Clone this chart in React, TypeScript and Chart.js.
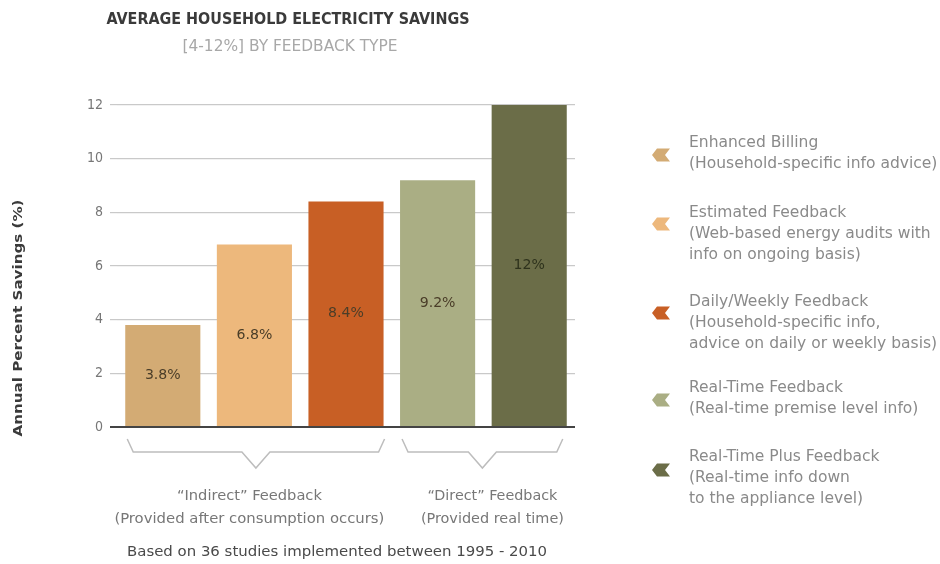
import React, { useEffect, useRef } from "react";
import { Chart, registerables } from "chart.js";

Chart.register(...registerables);

const categories = ["Enhanced Billing", "Estimated Feedback", "Daily/Weekly Feedback", "Real-Time Feedback", "Real-Time Plus Feedback"];
const savings = [3.8, 6.8, 8.4, 9.2, 12];
const valueLabels = ["3.8%", "6.8%", "8.4%", "9.2%", "12%"];
const barColors = ["#D3AB74", "#EDB87C", "#C85F25", "#AAAE84", "#6B6D48"];
const legendLines = [
  ["Enhanced Billing", "(Household-specific info advice)"],
  ["Estimated Feedback", "(Web-based energy audits with", "info on ongoing basis)"],
  ["Daily/Weekly Feedback", "(Household-specific info,", "advice on daily or weekly basis)"],
  ["Real-Time Feedback", "(Real-time premise level info)"],
  ["Real-Time Plus Feedback", "(Real-time info down", "to the appliance level)"],
];
const yTicks = [0, 2, 4, 6, 8, 10, 12];
const groupLabels = [
  ["\u201CIndirect\u201D Feedback", "(Provided after consumption occurs)"],
  ["\u201CDirect\u201D Feedback", "(Provided real time)"],
];
const title = "AVERAGE HOUSEHOLD ELECTRICITY SAVINGS";
const subtitle = "[4-12%] BY FEEDBACK TYPE";
const yTitle = "Annual Percent Savings (%)";
const footer = "Based on 36 studies implemented between 1995 - 2010";

const FONT = '"DejaVu Sans Condensed", "Liberation Sans Narrow", "Roboto", sans-serif';

function drawText(ctx: CanvasRenderingContext2D, text: string, x: number, y: number, font: string, color: string, align: CanvasTextAlign, width?: number, sx?: number) {
  ctx.save();
  ctx.font = font;
  ctx.fillStyle = color;
  ctx.textBaseline = "middle";
  ctx.textAlign = align;
  let s = 1;
  if (width) {
    const w = ctx.measureText(text).width;
    s = width / w;
  } else if (sx) {
    s = sx;
  }
  ctx.translate(x, y);
  ctx.scale(s, 1);
  ctx.fillText(text, 0, 0);
  ctx.restore();
}

const decorPlugin = {
  id: "decor",
  afterDatasetsDraw(chart: any) {
    const ctx: CanvasRenderingContext2D = chart.ctx;
    const meta = chart.getDatasetMeta(0);
    // value labels
    meta.data.forEach((bar: any, i: number) => {
      const cy = (bar.y + bar.base) / 2;
      drawText(ctx, valueLabels[i], bar.x, cy, `500 14px ${FONT}`, i === 4 ? "#2e321c" : "#4a3d28", "center", undefined, 1.12);
    });
    // braces
    const b = meta.data;
    const base = b[0].base;
    ctx.save();
    ctx.strokeStyle = "#bdbdbd";
    ctx.lineWidth = 1.5;
    const brace = (x1: number, x2: number) => {
      const mid = (x1 + x2) / 2;
      const top = base + 13;
      const h = base + 26;
      ctx.beginPath();
      ctx.moveTo(x1, top);
      ctx.lineTo(x1 + 6, h);
      ctx.lineTo(mid - 14, h);
      ctx.lineTo(mid, h + 16);
      ctx.lineTo(mid + 14, h);
      ctx.lineTo(x2 - 6, h);
      ctx.lineTo(x2, top);
      ctx.stroke();
    };
    const bw = b[0].width;
    brace(b[0].x - bw / 2 + 2, b[2].x + bw / 2 + 1);
    brace(b[3].x - bw / 2 + 2, b[4].x + bw / 2 - 4);
    ctx.restore();
    const g1 = (b[0].x + b[2].x) / 2 - 5;
    const g2 = (b[3].x + b[4].x) / 2 + 9;
    drawText(ctx, groupLabels[0][0], g1, base + 70, `14px ${FONT}`, "#777", "center", 145);
    drawText(ctx, groupLabels[0][1], g1, base + 93, `14px ${FONT}`, "#777", "center", 270);
    drawText(ctx, groupLabels[1][0], g2, base + 70, `14px ${FONT}`, "#777", "center", 130);
    drawText(ctx, groupLabels[1][1], g2, base + 93, `14px ${FONT}`, "#777", "center", 143);
    drawText(ctx, footer, 337, base + 126, `14px ${FONT}`, "#4a4a4a", "center", 420);
    // titles
    drawText(ctx, title, 288, 20, `bold 16px ${FONT}`, "#3a3a3a", "center", 363);
    drawText(ctx, subtitle, 290, 47, `15px ${FONT}`, "#a8a8a8", "center", 215);
    // y title
    ctx.save();
    ctx.translate(19, 318);
    ctx.rotate(-Math.PI / 2);
    drawText(ctx, yTitle, 0, 0, `bold 13px ${FONT}`, "#3a3a3a", "center", 237);
    ctx.restore();
    // legend
    const starts = [143, 213, 302, 388, 457];
    const iconY = [155, 224, 313, 400, 470];
    legendLines.forEach((lines, i) => {
      const y0 = starts[i];
      const cy = iconY[i];
      ctx.save();
      ctx.fillStyle = barColors[i];
      ctx.beginPath();
      ctx.moveTo(652, cy);
      ctx.lineTo(657, cy - 6.5);
      ctx.lineTo(670, cy - 6.5);
      ctx.lineTo(665, cy);
      ctx.lineTo(670, cy + 6.5);
      ctx.lineTo(657, cy + 6.5);
      ctx.closePath();
      ctx.fill();
      ctx.restore();
      lines.forEach((t, j) => {
        drawText(ctx, t, 689, y0 + j * 21, `15px ${FONT}`, "#8a8a8a", "left", undefined, 1.15);
      });
    });
  },
};

export default function App() {
  const ref = useRef<HTMLCanvasElement>(null);
  useEffect(() => {
    if (!ref.current) return;
    const chart = new Chart(ref.current, {
      type: "bar",
      data: {
        labels: categories,
        datasets: [
          {
            data: savings,
            backgroundColor: barColors,
            barPercentage: 0.82,
            categoryPercentage: 1,
          },
        ],
      },
      options: {
        responsive: false,
        animation: false,
        layout: { padding: { left: 77, right: 365, top: 105, bottom: 137 } },
        plugins: { legend: { display: false }, tooltip: { enabled: false }, title: { display: false } },
        scales: {
          x: { display: false },
          y: {
            min: 0,
            max: 12,
            afterFit: (s: any) => {
              s.width = 40;
            },
            afterBuildTicks: (s: any) => {
              s.ticks = yTicks.map((v) => ({ value: v }));
            },
            border: { display: false },
            grid: {
              color: (c: any) => (c.tick && c.tick.value === 0 ? "#444" : "#c9c9c9"),
              lineWidth: (c: any) => (c.tick && c.tick.value === 0 ? 2 : 1.2),
              tickLength: 7,
              drawTicks: true,
            },
            ticks: {
              color: "#777",
              padding: 7,
              font: { family: FONT, size: 14 },
            },
          },
        },
      },
      plugins: [decorPlugin],
    });
    return () => chart.destroy();
  }, []);
  return (
    <div style={{ position: "absolute", left: 0, top: 0, width: 940, height: 564, background: "#fff" }}>
      <canvas ref={ref} width={940} height={564} />
    </div>
  );
}
